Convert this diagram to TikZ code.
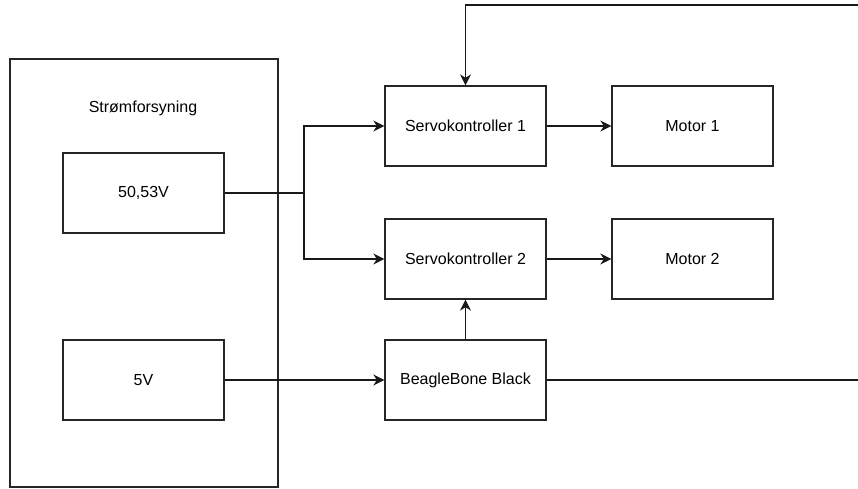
\documentclass[tikz,border=0pt]{standalone}
\usepackage{fontspec}
\setmainfont{Liberation Sans}
\usetikzlibrary{arrows.meta}
\begin{document}
\begin{tikzpicture}[x=1pt,y=-1pt,
  box/.style={draw=black!85, line width=1.3pt, rectangle, minimum width=161pt, minimum height=80pt, inner sep=0pt, font=\fontsize{16}{19}\selectfont},
  conn/.style={line width=1.3pt, draw=black!90},
  arr/.style={conn, -{Stealth[length=11pt,width=11pt,inset=3.5pt]}}]
\useasboundingbox (0,0) rectangle (858,488);
\node[draw=black!85, line width=1.3pt, minimum width=268pt, minimum height=428pt, inner sep=0pt] (ps) at (144,273) {};
\node[font=\fontsize{16}{19}\selectfont] (pslabel) at (143,108) {Strømforsyning};
\node[box] (v50) at (143.5,193) {50,53V};
\node[box] (v5) at (143.5,380) {5V};
\node[box] (s1) at (465.5,126) {Servokontroller 1};
\node[box] (s2) at (465.5,259) {Servokontroller 2};
\node[box] (bbb) at (465.5,380) {BeagleBone Black};
\node[box] (m1) at (692.5,126) {Motor 1};
\node[box] (m2) at (692.5,259) {Motor 2};
\coordinate (branch) at (304,193);
\coordinate (topright) at (858,5);
\coordinate (bbbend) at (858,380);
\draw[conn] (v50.east) -- (branch);
\draw[arr] (branch) |- (s1.west);
\draw[arr] (branch) |- (s2.west);
\draw[arr] (v5.east) -- (bbb.west);
\draw[arr] (bbb.north) -- (s2.south);
\draw[conn] (bbb.east) -- (bbbend);
\draw[arr] (topright) -| (s1.north);
\draw[arr] (s1.east) -- (m1.west);
\draw[arr] (s2.east) -- (m2.west);
\end{tikzpicture}
\end{document}
